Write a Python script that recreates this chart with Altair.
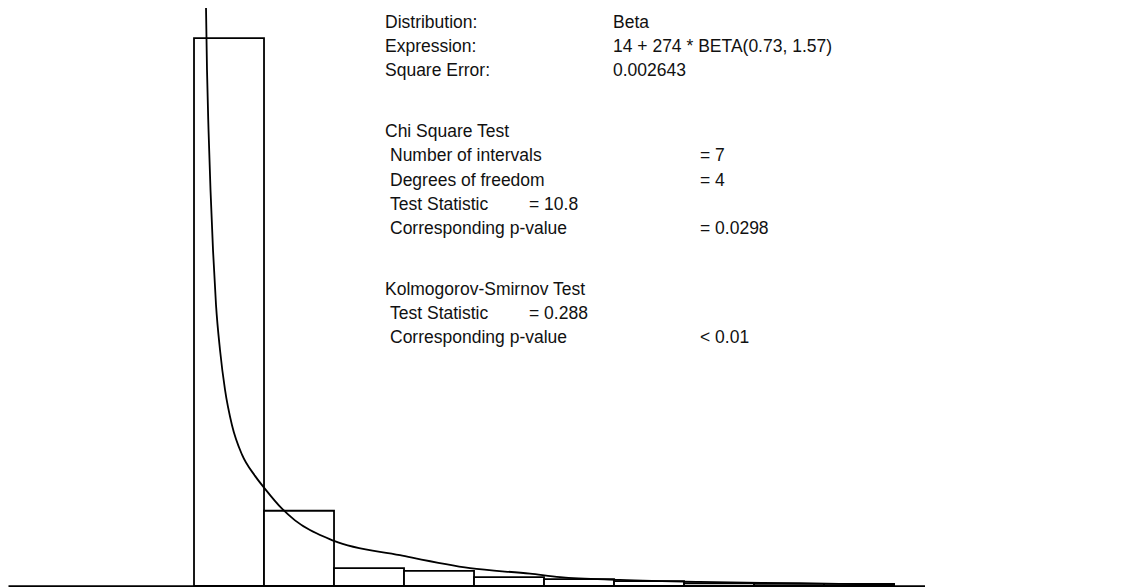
import altair as alt
import pandas as pd

# ---------------- data ----------------
bin_start = [14.0, 41.4, 68.8, 96.2, 123.6, 151.0, 178.4, 205.8, 233.2, 260.6]
bin_end = [41.4, 68.8, 96.2, 123.6, 151.0, 178.4, 205.8, 233.2, 260.6, 288.0]
rel_freq = [0.801, 0.110, 0.026, 0.022, 0.013, 0.010, 0.007, 0.004, 0.003, 0.003]

curve_x = [18.5, 18.7, 19.09, 19.68, 20.46, 21.44, 22.61, 24.18, 26.13, 28.87,
           32.79, 37.88, 41.79, 48.44, 53.53, 68.8, 94.63, 122.03, 145.51,
           157.26, 180.74, 212.06, 251.2, 288.0]
curve_y = [0.90, 0.845, 0.754, 0.667, 0.579, 0.491, 0.411, 0.345, 0.287, 0.235,
           0.192, 0.161, 0.142, 0.113, 0.096, 0.066, 0.045, 0.026, 0.018,
           0.013, 0.009, 0.006, 0.004, 0.002]

text_labels = ["Distribution:", "Expression:", "Square Error:",
               "Chi Square Test", "Number of intervals", "Degrees of freedom",
               "Test Statistic", "Corresponding p-value",
               "Kolmogorov-Smirnov Test", "Test Statistic", "Corresponding p-value",
               "Beta", "14 + 274 * BETA(0.73, 1.57)", "0.002643",
               "= 7", "= 4", "= 10.8", "= 0.0298",
               "= 0.288", "< 0.01"]
text_rows = [0, 1, 2, 4.5, 5.5, 6.5, 7.5, 8.5, 11, 12, 13,
             0, 1, 2, 5.5, 6.5, 7.5, 8.5, 12, 13]
text_cols = ["head", "head", "head", "head", "item", "item", "item", "item",
             "head", "item", "item",
             "val", "val", "val", "right", "right", "mid", "right", "mid", "right"]

x_domain = [-58.8, 300.1]
y_domain = [0, 0.845]

# ---------------- tables ----------------
bars = pd.DataFrame({"start": bin_start, "end": bin_end, "freq": rel_freq})
curve = pd.DataFrame({"x": curve_x, "y": curve_y})
texts = pd.DataFrame({"label": text_labels, "row": text_rows, "col": text_cols})

xs = alt.Scale(domain=x_domain, nice=False, zero=False)
ys = alt.Scale(domain=y_domain, nice=False, zero=True)

bar_layer = alt.Chart(bars).mark_bar(
    fill="white", stroke="black", strokeWidth=1.8
).encode(
    x=alt.X("start:Q", scale=xs,
            axis=alt.Axis(labels=False, ticks=False, grid=False, title=None,
                          domainColor="black", domainWidth=2.4)),
    x2="end:Q",
    y=alt.Y("freq:Q", scale=ys, axis=None),
    y2=alt.datum(0),
)

curve_layer = alt.Chart(curve).mark_line(
    color="black", strokeWidth=1.8, clip=True, interpolate="monotone"
).encode(
    x=alt.X("x:Q", scale=xs),
    y=alt.Y("y:Q", scale=ys),
)

hist = alt.layer(bar_layer, curve_layer)

col_px = {"head": 377, "item": 382, "val": 605, "mid": 521, "right": 692}
text_layers = []
for key, px in col_px.items():
    text_layers.append(
        alt.Chart(texts).transform_filter(alt.datum.col == key).mark_text(
            align="left", baseline="middle", font="Liberation Sans",
            fontSize=17.5, color="#111111"
        ).encode(
            x=alt.value(px),
            y=alt.Y("row:Q", scale=alt.Scale(domain=[0, 13], range=[15, 330]),
                    axis=None),
            text="label:N",
        )
    )

chart = alt.layer(hist, *text_layers).resolve_scale(y="independent").properties(
    width=917, height=578, padding=0, background="white"
).configure_view(stroke=None)

chart.save("out.html", embed_options={"renderer": "svg", "actions": False})
